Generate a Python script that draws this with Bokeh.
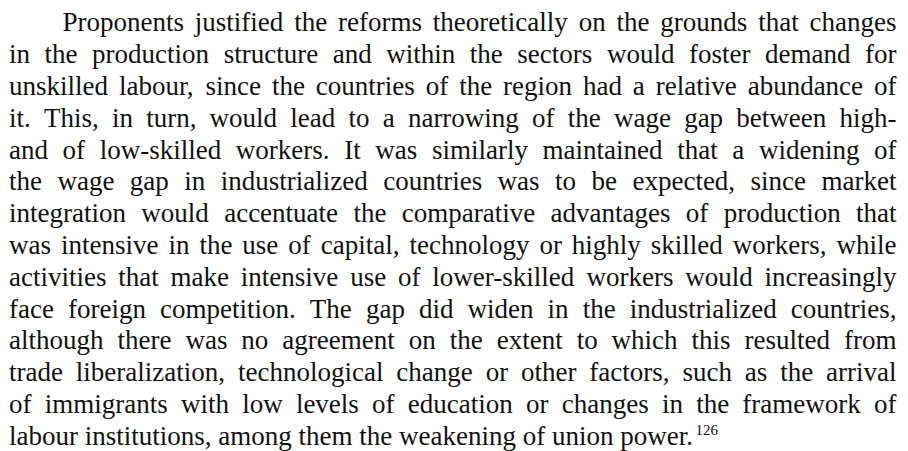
from bokeh.plotting import figure
from bokeh.models import ColumnDataSource, Range1d
from bokeh.embed import file_html
from bokeh.resources import INLINE
from bokeh.core.properties import value

# ---- data: the paragraph, line by line as set in the reference ----
lines = [
    "Proponents justified the reforms theoretically on the grounds that changes",
    "in the production structure and within the sectors would foster demand for",
    "unskilled labour, since the countries of the region had a relative abundance of",
    "it. This, in turn, would lead to a narrowing of the wage gap between high-",
    "and of low-skilled workers. It was similarly maintained that a widening of",
    "the wage gap in industrialized countries was to be expected, since market",
    "integration would accentuate the comparative advantages of production that",
    "was intensive in the use of capital, technology or highly skilled workers, while",
    "activities that make intensive use of lower-skilled workers would increasingly",
    "face foreign competition. The gap did widen in the industrialized countries,",
    "although there was no agreement on the extent to which this resulted from",
    "trade liberalization, technological change or other factors, such as the arrival",
    "of immigrants with low levels of education or changes in the framework of",
    "labour institutions, among them the weakening of union power.",
]
footnote = "126"

# ---- layout / style ----
FONT = "Liberation Serif"
SIZE = 27.0
SUP_SIZE = 15.0
W, H = 908, 451
LEFT, RIGHT = 8.5, 896.0
INDENT = 53.5
FIRST_BASE = 30.5      # wanted on-screen baseline of line 1
LEAD = 31.8
SHIFT = 0.315          # renderer draws the alphabetic baseline ~0.315 em below y
COLOR = "#111111"

# Times-compatible advance widths (per 1000 em) for Liberation Serif
_w = {" ": 250, ",": 250, ".": 250, "-": 333,
      "a": 444, "b": 500, "c": 444, "d": 500, "e": 444, "f": 333, "g": 500,
      "h": 500, "i": 278, "j": 278, "k": 500, "l": 278, "m": 778, "n": 500,
      "o": 500, "p": 500, "q": 500, "r": 333, "s": 389, "t": 278, "u": 500,
      "v": 500, "w": 722, "x": 500, "y": 500, "z": 444,
      "P": 556, "T": 611, "I": 333}


def text_width(s, size=SIZE):
    return sum(_w.get(c, 500) for c in s) * size / 1000.0


xs, ys, ts = [], [], []
end_x = LEFT
last_base = FIRST_BASE
for i, line in enumerate(lines):
    words = line.split(" ")
    x0 = LEFT + (INDENT if i == 0 else 0.0)
    base = FIRST_BASE + LEAD * i
    ww = [text_width(w) for w in words]
    if i < len(lines) - 1 and len(words) > 1:
        gap = (RIGHT - x0 - sum(ww)) / (len(words) - 1)
    else:
        gap = text_width(" ")
    x = x0
    for w, wd in zip(words, ww):
        xs.append(x)
        ys.append(base - SHIFT * SIZE)
        ts.append(w)
        x += wd + gap
    end_x = x - gap
    last_base = base

src = ColumnDataSource(dict(x=xs, y=ys, text=ts))
sup_base = last_base - 9.5
sup = ColumnDataSource(dict(x=[end_x + 1.0], y=[sup_base - SHIFT * SUP_SIZE],
                            text=[footnote]))

p = figure(width=W, height=H, x_range=Range1d(0, W), y_range=Range1d(H, 0),
           output_backend="svg", toolbar_location=None,
           x_axis_type=None, y_axis_type=None, min_border=0,
           outline_line_color=None, background_fill_color="white",
           border_fill_color="white")

p.text(x="x", y="y", text="text", source=src, text_font=value(FONT),
       text_font_size=f"{SIZE}px", text_color=COLOR,
       text_align="left", text_baseline="alphabetic")
p.text(x="x", y="y", text="text", source=sup, text_font=value(FONT),
       text_font_size=f"{SUP_SIZE}px", text_color=COLOR,
       text_align="left", text_baseline="alphabetic")

open("out.html", "w").write(file_html(p, INLINE))
